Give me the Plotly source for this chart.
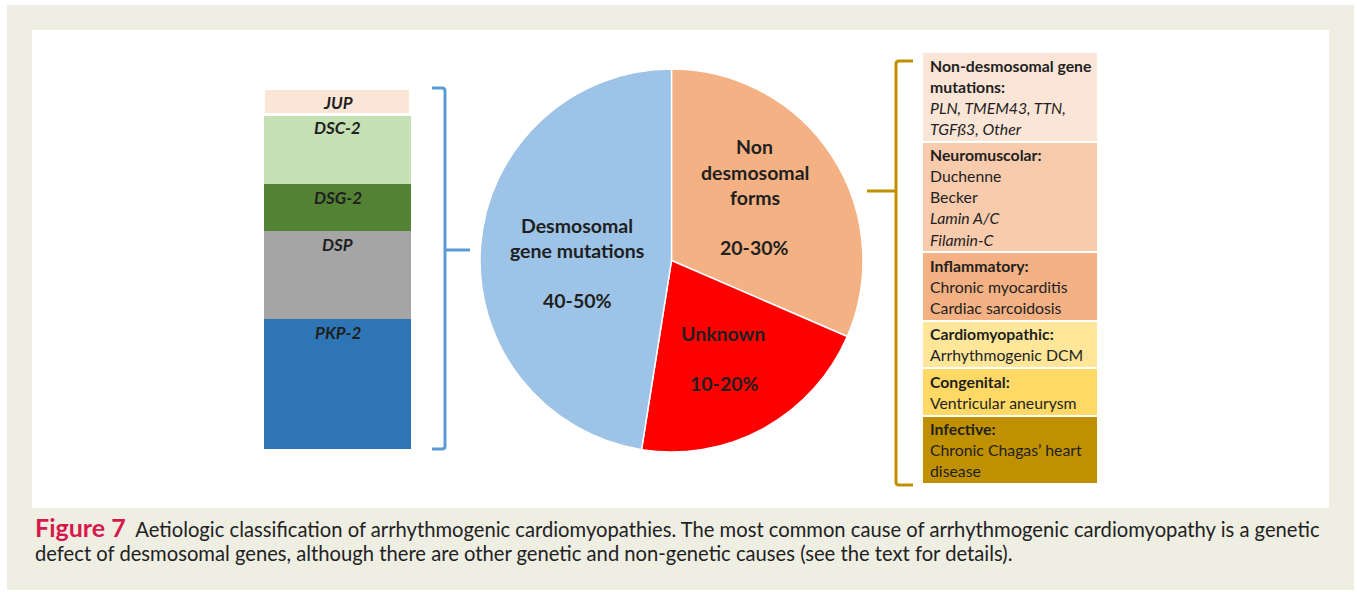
import plotly.graph_objects as go

W, H = 1357, 592
def X(p): return p / W
def Y(p): return 1 - p / H

# ---------------- data ----------------
pie_labels = ["Non desmosomal forms", "Unknown", "Desmosomal gene mutations"]
pie_values = [31.5, 21.0, 47.5]
pie_colors = ["#F4B183", "#FF0000", "#9DC3E6"]

gene_names = ["PKP-2", "DSP", "DSG-2", "DSC-2", "JUP"]
gene_values = [36.0, 24.5, 13.0, 19.3, 7.2]
gene_colors = ["#2E75B6", "#A5A5A5", "#548235", "#C5E0B4", "#FBE5D6"]

box_headers = ["Non-desmosomal gene<br>mutations:", "Neuromuscolar:", "Inflammatory:",
               "Cardiomyopathic:", "Congenital:", "Infective:"]
box_items = [
    ["<i>PLN, TMEM43, TTN,</i>", "<i>TGFß3, Other</i>"],
    ["Duchenne", "Becker", "<i>Lamin A/C</i>", "<i>Filamin-C</i>"],
    ["Chronic myocarditis", "Cardiac sarcoidosis"],
    ["Arrhythmogenic DCM"],
    ["Ventricular aneurysm"],
    ["Chronic Chagas’ heart", "disease"],
]
box_colors = ["#FBE5D6", "#F8CBAD", "#F4B183", "#FFE699", "#FFD966", "#BF9000"]

caption_lines = [
    "Aetiologic classification of arrhythmogenic cardiomyopathies. The most common cause of arrhythmogenic cardiomyopathy is a genetic",
    "defect of desmosomal genes, although there are other genetic and non-genetic causes (see the text for details).",
]

TXT = "#1f1f1f"
FONT = "Lato"

fig = go.Figure()

# pie
fig.add_trace(go.Pie(
    labels=pie_labels, values=pie_values, sort=False, direction="clockwise", rotation=0,
    marker=dict(colors=pie_colors, line=dict(color="white", width=1.5)),
    textinfo="none", hoverinfo="label", showlegend=False,
    domain=dict(x=[X(480), X(863)], y=[Y(452), Y(69)]),
))

annotations = []

# stacked gene bar
cum = 0.0
for name, val, col in zip(gene_names, gene_values, gene_colors):
    fig.add_trace(go.Bar(
        x=["genes"], y=[val], name=name, marker=dict(color=col,
        line=dict(color="white", width=3 if name == "JUP" else 0)),
        showlegend=False, xaxis="x", yaxis="y", width=1,
    ))
    cum += val
    annotations.append(dict(x="genes", y=cum, xref="x", yref="y", text=f"<b><i>{name}</i></b>",
                            xanchor="center", yanchor="middle", yshift=-13, showarrow=False,
                            font=dict(family=FONT, size=17, color=TXT)))

# classification boxes: height = number of text lines + padding
box_rows = [h.count("<br>") + 1 + len(items) for h, items in zip(box_headers, box_items)]
PAD = 0.125
for rows, col in zip(box_rows, box_colors):
    fig.add_trace(go.Bar(
        x=["boxes"], y=[rows + 2 * PAD], marker=dict(color=col, line=dict(color="white", width=2.5)),
        showlegend=False, xaxis="x2", yaxis="y2", width=1, hoverinfo="skip",
    ))

cum = 0.0
for h, items, rows in zip(box_headers, box_items, box_rows):
    lines = [f"<b>{t}</b>" for t in h.split("<br>")] + items
    for j, ln in enumerate(lines):
        annotations.append(dict(
            x=X(928), y=cum + PAD + j + 0.5, xref="paper", yref="y2", text=ln,
            xanchor="left", yanchor="middle", showarrow=False,
            font=dict(family=FONT, size=15.8, color=TXT)))
    cum += rows + 2 * PAD
total_rows = cum

# pie text
pie_text = [
    ("Non", 755, 147), ("desmosomal", 755, 172), ("forms", 755, 197), ("20-30%", 755, 248),
    ("Desmosomal", 577, 225), ("gene mutations", 577, 250), ("40-50%", 577, 300),
    ("Unknown", 723, 333), ("10-20%", 724, 383),
]
for t, px, py in pie_text:
    annotations.append(dict(x=X(px), y=Y(py), xref="paper", yref="paper", text=f"<b>{t}</b>",
                            showarrow=False, xanchor="center", yanchor="middle",
                            font=dict(family=FONT, size=19.5, color=TXT)))

# caption
annotations.append(dict(
    x=X(33), y=Y(527), xref="paper", yref="paper", xanchor="left", yanchor="middle", showarrow=False,
    text=f"<span style='color:#D6194B;font-size:25px'><b>Figure 7</b></span>  {caption_lines[0]}",
    font=dict(family=FONT, size=20.2, color="#222222")))
annotations.append(dict(
    x=X(33), y=Y(553), xref="paper", yref="paper", xanchor="left", yanchor="middle", showarrow=False,
    text=caption_lines[1], font=dict(family=FONT, size=20.2, color="#222222")))

def P(x, y):
    return f"{X(x):.5f},{Y(y):.5f}"

blue_path = (f"M {P(432,88)} L {P(442,88)} Q {P(445,88)} {P(445,91)} L {P(445,446)} "
             f"Q {P(445,449)} {P(442,449)} L {P(432,449)} M {P(445,250)} L {P(470,250)}")
gold_path = (f"M {P(913,61)} L {P(899,61)} Q {P(896,61)} {P(896,64)} L {P(896,482)} "
             f"Q {P(896,485)} {P(899,485)} L {P(913,485)} M {P(896,191)} L {P(867,191)}")

shapes = [
    dict(type="rect", xref="paper", yref="paper", x0=X(7), x1=X(1354), y0=Y(590), y1=Y(5),
         fillcolor="#EFEEE3", line=dict(width=0), layer="below"),
    dict(type="rect", xref="paper", yref="paper", x0=X(32), x1=X(1329), y0=Y(508), y1=Y(30),
         fillcolor="white", line=dict(width=0), layer="below"),
    dict(type="path", xref="paper", yref="paper", path=blue_path, line=dict(color="#5B9BD5", width=3)),
    dict(type="path", xref="paper", yref="paper", path=gold_path, line=dict(color="#BF9000", width=3)),
]

fig.update_layout(
    width=W, height=H, autosize=False, margin=dict(l=0, r=0, t=0, b=0),
    paper_bgcolor="white", plot_bgcolor="rgba(0,0,0,0)",
    barmode="stack", bargap=0,
    xaxis=dict(domain=[X(264), X(411)], visible=False, fixedrange=True),
    yaxis=dict(domain=[Y(449), Y(89)], range=[0, sum(gene_values)], visible=False, fixedrange=True),
    xaxis2=dict(domain=[X(922), X(1098)], visible=False, anchor="y2", fixedrange=True),
    yaxis2=dict(domain=[Y(484), Y(52)], range=[total_rows, 0], visible=False, anchor="x2", fixedrange=True),
    annotations=annotations, shapes=shapes, font=dict(family=FONT),
)
fig.write_html("out.html", config={"displayModeBar": False},
               post_script="document.body.style.margin='0px';document.body.style.overflow='hidden';")
